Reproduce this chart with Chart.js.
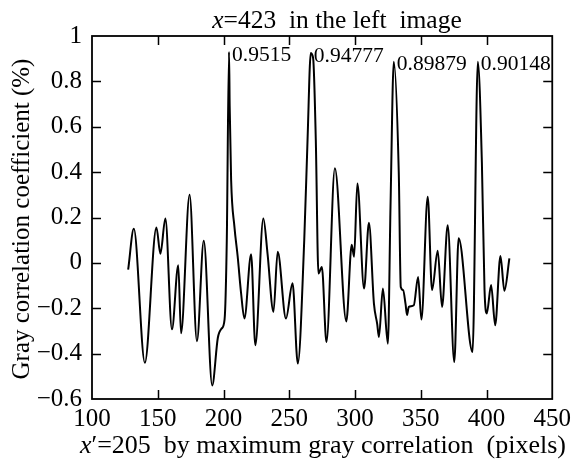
<!DOCTYPE html>
<html>
<head>
<meta charset="utf-8">
<script src="https://cdn.jsdelivr.net/npm/chart.js@4/dist/chart.umd.min.js"></script>
<style>
html, body { margin: 0; padding: 0; background: #fff; }
</style>
</head>
<body>
<canvas id="chart" width="576" height="462"></canvas>
<script>
// pixel offset (x)
var xs = [127.5, 131.8, 140.2, 149.0, 152.0, 155.8, 160.8, 165.6, 167.7, 174.2,
  179.8, 185.0, 191.4, 195.7, 198.5, 200.8, 202.5, 204.2, 204.7, 205.8,
  208.3, 210.8, 213.4, 215.9, 221.0, 224.2, 230.3, 233.5, 238.0, 241.2,
  247.5, 252.5, 256.5, 261.4, 263.9, 266.4, 268.2, 270.2, 272.2, 274.8,
  278.3, 284.7, 293.4, 297.5, 299.3, 301.8, 306.9, 310.6, 314.4, 316.9,
  318.2, 321.2, 325.0, 327.0, 329.5, 333.3, 334.8, 336.6, 338.4, 339.6,
  340.9, 344.7, 348.0, 350.5, 355.3, 358.6, 362.9, 366.2, 370.5, 375.5,
  378.8, 389.4, 393.4, 396.5, 398.5, 400.2, 403.5, 406.6, 410.6, 413.6, 417.4];
// gray correlation coefficient
var ys = [-0.03, 0.15, -0.44, 0.156, 0.04, 0.196, -0.293, -0.01, -0.31, 0.30,
  -0.345, 0.097, -0.54, -0.33, -0.29, -0.25, 0.10, 0.93, 0.69, 0.365,
  0.16, 0.027, -0.135, -0.245, 0.038, -0.363, 0.196, 0.04, -0.216, 0.049,
  -0.245, -0.09, -0.444, 0.10, 0.54, 0.925, 0.90, 0.54, -0.047, -0.018,
  -0.349, 0.417, -0.258, 0.08, 0.027, 0.35, -0.113, 0.177, -0.18, -0.27,
  -0.327, -0.113, -0.356, 0.247, 0.887, 0.394, -0.106, -0.12, -0.18, -0.23,
  -0.194, -0.187, -0.062, -0.25, 0.291, -0.12, 0.053, -0.194, 0.166, -0.437,
  0.108, -0.393, 0.887, 0.44, -0.12, -0.223, -0.098, -0.275, 0.03, -0.123, 0.02];

var xTicks = [100, 150, 200, 250, 300, 350, 400, 450];
var yTicks = [-0.6, -0.4, -0.2, 0, 0.2, 0.4, 0.6, 0.8, 1];

// peaks and the values written next to them
var peakX = [204.2, 266.4, 329.5, 393.4];
var peakY = [0.93, 0.925, 0.887, 0.887];
var peakLabels = ['0.9515', '0.94777', '0.89879', '0.90148'];

var SERIF = '"Liberation Serif", "Times New Roman", serif';

var points = [];
for (var i = 0; i < xs.length; i++) {
  points.push({x: xs[i], y: ys[i]});
}

function fmt(v) {
  var s = String(Math.round(v * 10) / 10);
  return s.replace('-', '\u2212');
}

// draws a line of text made of plain and italic pieces, centred on cx
function mixedText(ctx, parts, cx, y, size) {
  var w = 0;
  parts.forEach(function (p) {
    ctx.font = (p.it ? 'italic ' : '') + size + 'px ' + SERIF;
    p.w = ctx.measureText(p.t).width;
    w += p.w;
  });
  var x = cx - w / 2;
  parts.forEach(function (p) {
    ctx.font = (p.it ? 'italic ' : '') + size + 'px ' + SERIF;
    ctx.fillText(p.t, x, y);
    x += p.w;
  });
}

var frame = {
  id: 'frame',
  afterDraw: function (chart) {
    var ctx = chart.ctx;
    var a = chart.chartArea;
    var sx = chart.scales.x, sy = chart.scales.y;
    var tl = 9;
    ctx.save();
    ctx.strokeStyle = '#000';
    ctx.lineWidth = 1.8;
    ctx.strokeRect(a.left, a.top, a.right - a.left, a.bottom - a.top);
    ctx.lineWidth = 1.5;
    ctx.beginPath();
    xTicks.forEach(function (v) {
      if (v <= 100 || v >= 450) return;
      var p = Math.round(sx.getPixelForValue(v)) + 0.5;
      ctx.moveTo(p, a.bottom); ctx.lineTo(p, a.bottom - tl);
      ctx.moveTo(p, a.top); ctx.lineTo(p, a.top + tl);
    });
    yTicks.forEach(function (v) {
      if (v <= -0.6 || v >= 1) return;
      var p = Math.round(sy.getPixelForValue(v)) + 0.5;
      ctx.moveTo(a.left, p); ctx.lineTo(a.left + tl, p);
      ctx.moveTo(a.right, p); ctx.lineTo(a.right - tl, p);
    });
    ctx.stroke();

    ctx.fillStyle = '#000';
    ctx.textBaseline = 'middle';
    ctx.textAlign = 'left';
    ctx.font = '21.5px ' + SERIF;
    for (var k = 0; k < peakLabels.length; k++) {
      ctx.fillText(peakLabels[k], sx.getPixelForValue(peakX[k]) + 3, sy.getPixelForValue(peakY[k]) + 3);
    }

    ctx.textBaseline = 'alphabetic';
    mixedText(ctx, [{t: 'x', it: true}, {t: '=423  in the left  image'}], 337, 28, 25.5);
    mixedText(ctx, [{t: 'x', it: true}, {t: '\u2032=205  by maximum gray correlation  (pixels)'}], 323, 453, 26);

    ctx.save();
    ctx.translate(22, 219);
    ctx.rotate(-Math.PI / 2);
    ctx.textAlign = 'center';
    ctx.textBaseline = 'middle';
    ctx.font = '25px ' + SERIF;
    ctx.fillText('Gray correlation coefficient (%)', 0, 0);
    ctx.restore();
    ctx.restore();
  }
};

new Chart(document.getElementById('chart'), {
  type: 'line',
  data: {
    datasets: [{
      data: points,
      borderColor: '#000',
      borderWidth: 2,
      pointRadius: 0,
      fill: false,
      cubicInterpolationMode: 'monotone'
    }]
  },
  options: {
    responsive: false,
    animation: false,
    layout: {padding: {top: 36, right: 22, left: 0, bottom: 0}},
    plugins: {legend: {display: false}, tooltip: {enabled: false}, title: {display: false}},
    scales: {
      x: {
        type: 'linear',
        min: 100, max: 450,
        grid: {display: false, drawTicks: false},
        border: {display: false},
        ticks: {color: '#000', font: {family: SERIF, size: 25}, padding: 5, maxRotation: 0, autoSkip: false},
        afterBuildTicks: function (s) { s.ticks = xTicks.map(function (v) { return {value: v}; }); },
        afterFit: function (s) { s.height = 63; }
      },
      y: {
        min: -0.6, max: 1,
        grid: {display: false, drawTicks: false},
        border: {display: false},
        ticks: {color: '#000', font: {family: SERIF, size: 25}, padding: 10, callback: fmt},
        afterBuildTicks: function (s) { s.ticks = yTicks.map(function (v) { return {value: v}; }); },
        afterFit: function (s) { s.width = 92; }
      }
    }
  },
  plugins: [frame]
});
</script>
</body>
</html>
